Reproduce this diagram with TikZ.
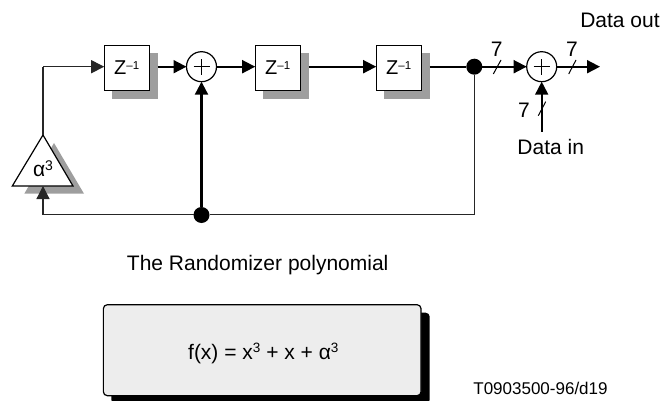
\documentclass[tikz,border=0pt]{standalone}
\usepackage{fontspec}
\setmainfont{Liberation Sans}
\usetikzlibrary{arrows.meta}
\tikzset{
  every node/.style={inner sep=0pt,outer sep=0pt},
  zbox/.style={draw=black,line width=1.3pt,fill=white,minimum width=45pt,minimum height=45pt,font=\fontsize{20}{22}\selectfont},
  zshadow/.style={fill=black!38,minimum width=46pt,minimum height=46pt},
  xorc/.style={circle,draw=black,line width=1.2pt,fill=white,minimum size=30pt},
  joint/.style={circle,fill=black,minimum size=16pt},
  wire/.style={line width=1.8pt,-{Triangle[length=13pt,width=13pt]}},
  plainwire/.style={line width=1.2pt,draw=black!85},
  thinarrow/.style={line width=1.2pt,draw=black!85,-{Triangle[length=13pt,width=13pt]}},
  bus/.style={line width=1pt},
  lab/.style={font=\fontsize{21}{24}\selectfont},
}
\newcommand{\zinv}{Z\raisebox{0.5ex}{\fontsize{11.5}{12}\selectfont –1}}
\begin{document}
\begin{tikzpicture}[x=1pt,y=-1pt]
\useasboundingbox (0,0) rectangle (661,401);
% Z blocks
\node[zshadow] (s1) at (134.7,75.7) {};
\node[zshadow] (s2) at (285.7,75.7) {};
\node[zshadow] (s3) at (406.7,75.7) {};
\node[zbox] (z1) at (126.7,67.7) {\zinv};
\node[zbox] (z2) at (277.7,67.7) {\zinv};
\node[zbox] (z3) at (398.7,67.7) {\zinv};
% Adders and joints
\node[xorc] (a1) at (201.5,66.7) {};
\node[xorc] (a2) at (541.7,66.7) {};
\foreach \n in {a1,a2}{
  \draw[line width=1.4pt] ([xshift=-8pt]\n.center) -- ([xshift=8pt]\n.center);
  \draw[line width=1.4pt] ([yshift=-8pt]\n.center) -- ([yshift=8pt]\n.center);
}
\node[joint] (j1) at (474.3,66.7) {};
\node[joint] (j2) at (201.5,215) {};
% Triangle
\fill[black!38] (54,143) -- (84,193.7) -- (24.3,193.7) -- cycle;
\coordinate (apex) at (43,135);
\coordinate (tbase) at (43,186);
\draw[line width=1.2pt,fill=white,line join=miter] (apex) -- (73,186) -- (12.3,186) -- cycle;
\node[font=\fontsize{21}{24}\selectfont] (alpha) at (43,169) {α\raisebox{0.55ex}{\fontsize{14}{15}\selectfont 3}};
% Connectors
\coordinate (corner) at (43,66.7);
\coordinate (fbc1) at (474.3,214.6);
\coordinate (fbc2) at (43,214.6);
\coordinate (out) at (600,66.7);
\coordinate (in) at (541.7,131.7);
\draw[plainwire] (apex) -- (corner);
\draw[thinarrow] (corner) -- (z1.west |- corner);
\draw[wire] (s1.east |- a1.west) -- (a1.west);
\draw[wire] (a1.east) -- (z2.west |- a1.east);
\draw[wire] (s2.east |- a1.east) -- (z3.west |- a1.east);
\draw[line width=1.8pt] (s3.east |- j1.west) -- (j1.west);
\draw[wire] (j1.east) -- (a2.west);
\draw[wire] (a2.east) -- (out);
\draw[wire] (in) -- (a2.south);
\draw[wire,line width=2.2pt] (j2.north) -- (a1.south);
\draw[plainwire] (j1.south) -- (fbc1) -- (j2.east |- fbc1);
\draw[plainwire] (j2.west |- fbc2) -- (fbc2);
\draw[thinarrow] (fbc2) -- (tbase);
% Bus marks
\coordinate (b1a) at (493.3,74); \coordinate (b1b) at (501,60);
\coordinate (b2a) at (568.7,74); \coordinate (b2b) at (576,60);
\coordinate (b3a) at (538.3,115.7); \coordinate (b3b) at (545.7,101.7);
\draw[bus] (b1a) -- (b1b);
\draw[bus] (b2a) -- (b2b);
\draw[bus] (b3a) -- (b3b);
\node[lab] (n1) at (496.7,49) {7};
\node[lab] (n2) at (572,49) {7};
\node[lab] (n3) at (524,110.7) {7};
\node[lab] (dout) at (620,20) {Data out};
\node[lab] (din) at (550.7,146.7) {Data in};
\node[lab] (title) at (257.7,265) {The Randomizer polynomial};
% Polynomial box
\fill[black,rounded corners=4pt] (111.3,312.7) rectangle (429.7,403.7);
\node[draw=black,line width=1.2pt,fill=black!7,rounded corners=4pt,minimum width=317.7pt,minimum height=91pt] (poly) at (262.2,350.2) {};
\node[lab] (formula) at (263.3,353.3) {f(x) = x\raisebox{0.6ex}{\fontsize{13.5}{15}\selectfont 3} + x + α\raisebox{0.6ex}{\fontsize{13.5}{15}\selectfont 3}};
\node[font=\fontsize{17}{20}\selectfont] (tag) at (540.5,388) {T0903500-96/d19};
\end{tikzpicture}
\end{document}
